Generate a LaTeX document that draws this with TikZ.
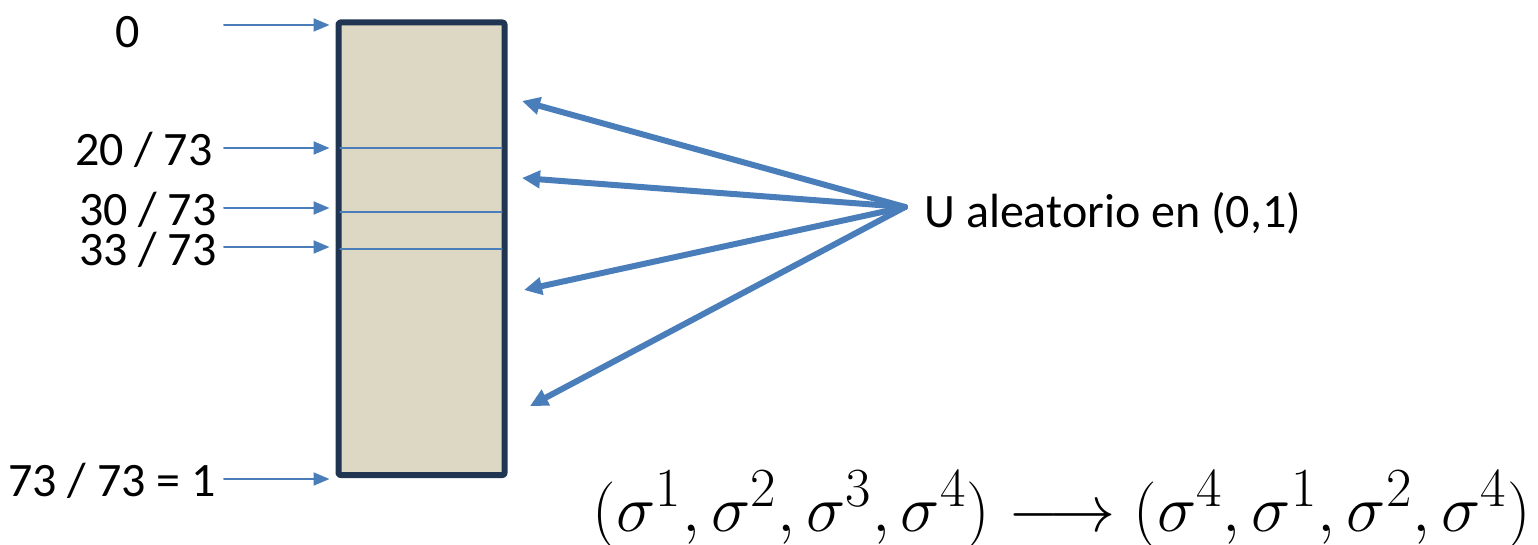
\documentclass[tikz,border=0pt]{standalone}
\usepackage{fontspec}
\usepackage{graphicx}
\setmainfont{Carlito}
\usetikzlibrary{arrows.meta}
\definecolor{urnaFill}{HTML}{DDD8C3}
\definecolor{urnaBorder}{HTML}{1F3552}
\definecolor{flechaAzul}{HTML}{4A7EBB}
\begin{document}
\begin{tikzpicture}
% Pixel grid of the original slide
\def\pxsz{0.5pt}
\providecommand{\etiquetaFont}{\fontsize{24}{28}\selectfont}
\begin{scope}[x=\pxsz, y=-\pxsz, line cap=round, line join=round,
  etiqueta/.style={font=\etiquetaFont, inner sep=0pt},
  flechafina/.style={draw=flechaAzul, line width=1pt, -{Triangle[length=8pt, width=6.5pt]}},
  flechagruesa/.style={draw=flechaAzul, line width=3pt, -{Triangle[length=9pt, width=8.5pt]}}]
  \useasboundingbox (0,0) rectangle (1538,545);
  % Box of cumulative probabilities
  \node[draw=urnaBorder, fill=urnaFill, line width=3pt, rounded corners=1pt, outer sep=0pt,
    minimum width=83pt, minimum height=226.25pt, inner sep=0pt, anchor=north west] (urna) at (338.5,22.5) {};
  % Separators inside the box
  \begin{scope}[draw=flechaAzul, line width=0.6pt]
    \draw (340,148) -- (502,148);
    \draw (340,212) -- (502,212);
    \draw (340,249) -- (502,249);
  \end{scope}
  % Labels on the left
  \node[etiqueta] (l0) at (128,32) {0};
  \node[etiqueta, anchor=east] (l20) at (213,150) {20 / 73};
  \node[etiqueta, anchor=east] (l30) at (217,210) {30 / 73};
  \node[etiqueta, anchor=east] (l33) at (217,250) {33 / 73};
  \node[etiqueta, anchor=east] (l73) at (216,481) {73 / 73 = 1};
  % Thin arrows pointing to the box
  \coordinate (t0) at (224,25);
  \coordinate (t20) at (224,148);
  \coordinate (t30) at (224,208);
  \coordinate (t33) at (224,247);
  \coordinate (t73) at (224,479);
  \foreach \t in {t0,t20,t30,t33,t73}
    \draw[flechafina, shorten >=4.5pt] (\t) -- (\t -| urna.west);
  % Random U and its arrows
  \node[etiqueta, anchor=west] (U) at (924,213) {U aleatorio en (0,1)};
  \coordinate (fuente) at (905,207);
  \coordinate (d1) at (522,101);
  \coordinate (d2) at (522,178);
  \coordinate (d3) at (524,290);
  \coordinate (d4) at (530,406);
  \foreach \d in {d1,d2,d3,d4}
    \draw[flechagruesa] (fuente) -- (\d);
  % Permutation
  \node[font=\fontsize{24.88}{30}\selectfont, inner sep=0pt, anchor=base] (perm) at (1062,531)
    {\scalebox{1.33}{$(\sigma^1,\sigma^2,\sigma^3,\sigma^4)\longrightarrow(\sigma^4,\sigma^1,\sigma^2,\sigma^4)$}};
\end{scope}
\end{tikzpicture}
\end{document}
